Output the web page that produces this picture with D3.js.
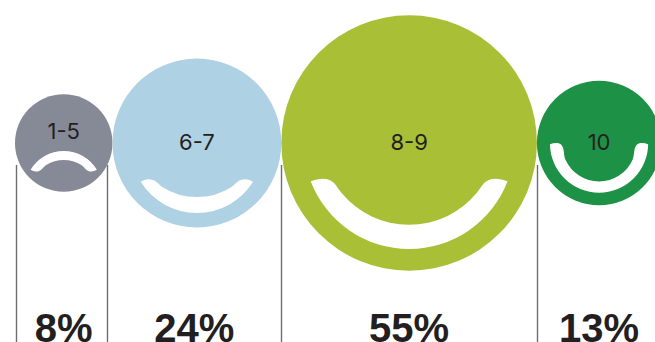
<!DOCTYPE html>
<html>
<head>
<meta charset="utf-8">
<script src="https://cdn.jsdelivr.net/npm/d3@7"></script>
<style>html,body{margin:0;padding:0;background:#fff;overflow:hidden}svg{display:block}</style>
</head>
<body>
<script>
const categories = ["1-5", "6-7", "8-9", "10"];
const shares = [8, 24, 55, 13];
const colors = ["#868a96", "#afd1e4", "#a8bf36", "#1d9146"];

// mouth outlines, as fractions of each circle's radius
const tipX = [0.68, 0.665, 0.77, 0.79];
const tipY = [0.55, 0.46, 0.30, 0.02];
const outerY = [0.165, 0.83, 0.83, 0.80];
const innerY = [0.35, 0.64, 0.64, 0.62];
const shoulderX = [0.36, 0.41, 0.53, 0.54];
const shoulderY = [0.45, 0.52, 0.39, 0.27];
const humpX = [0.57, 0.58, 0.68, 0.69];
const humpY = [0.585, 0.43, 0.28, 0.0];
const labelDy = [-11, 0, 0, 0];
const pctDx = [0, -2.5, 0, 0];

const W = 655, H = 342, cy = 143, startX = 15, lineTop = 165;
const svg = d3.select("body").append("svg").attr("width", W).attr("height", H);
const radius = d3.scaleSqrt().domain([0, 55]).range([0, 127.8]);

let cursor = startX;
const rows = categories.map((c, i) => {
  const r = radius(shares[i]);
  const cx = cursor + r;
  cursor += 2 * r;
  return { c, v: shares[i], r, cx, i };
});

function mouth(i, r) {
  const t = tipX[i] * r, ty = tipY[i] * r, o = outerY[i] * r, n = innerY[i] * r;
  const sx = shoulderX[i] * r, sy = shoulderY[i] * r, hx = humpX[i] * r, hy = humpY[i] * r;
  const arcR = (w, h) => (w * w + h * h) / (2 * Math.abs(h));
  const smile = o > ty;
  const Ri = arcR(sx, n - sy);
  // unit tangent of the inner arc at the right shoulder, pointing away from the middle
  const centerY = smile ? n - Ri : n + Ri;
  const rx = sx / Ri, ry = (sy - centerY) / Ri;
  const tx = Math.abs(ry), tyy = smile ? -Math.abs(rx) : Math.abs(rx);
  const dist = Math.hypot(hx - sx, hy - sy);
  const c2x = sx + tx * dist * 0.35, c2y = sy + tyy * dist * 0.35;
  const c1x = hx - dist * 0.5;
  let s = `M${-t},${ty}`;
  s += `A${arcR(t, o - ty)},${arcR(t, o - ty)} 0 0 ${smile ? 0 : 1} ${t},${ty}`;
  s += `Q${t * 0.5 + hx * 0.5},${hy} ${hx},${hy}`;
  s += `C${c1x},${hy} ${c2x},${c2y} ${sx},${sy}`;
  s += `A${Ri},${Ri} 0 0 ${smile ? 1 : 0} ${-sx},${sy}`;
  s += `C${-c2x},${c2y} ${-c1x},${hy} ${-hx},${hy}`;
  s += `Q${-t * 0.5 - hx * 0.5},${hy} ${-t},${ty}Z`;
  return s;
}

// divider lines at each circle's left edge, plus the right edge of the first
const edges = [16.5, rows[0].cx + rows[0].r - 4.5, rows[2].cx - rows[2].r, rows[3].cx - rows[3].r + 0.5].map(x => Math.floor(x) + 0.5);
svg.selectAll("line.div").data(edges).join("line").attr("class", "div")
  .attr("x1", d => d).attr("x2", d => d).attr("y1", lineTop).attr("y2", H)
  .attr("stroke", "#6d6e71").attr("stroke-width", 1.4);

const g = svg.selectAll("g.face").data(rows).join("g").attr("class", "face")
  .attr("transform", d => `translate(${d.cx},${cy})`);
g.append("circle").attr("r", d => d.r).attr("fill", d => colors[d.i]);
g.append("path").attr("d", d => mouth(d.i, d.r)).attr("fill", "#fff");
g.append("text").text(d => d.c)
  .attr("text-anchor", "middle").attr("y", d => labelDy[d.i] + 7)
  .attr("font-family", "Inter, sans-serif").attr("font-weight", 400)
  .attr("font-size", 22).attr("fill", "#231f20");

svg.selectAll("text.pct").data(rows).join("text").attr("class", "pct")
  .text(d => d.v + "%")
  .attr("x", d => d.cx + pctDx[d.i]).attr("y", 342)
  .attr("text-anchor", "middle")
  .attr("font-family", "'Liberation Sans', sans-serif").attr("font-weight", 700)
  .attr("font-size", 40).attr("fill", "#231f20");
</script>
</body>
</html>
